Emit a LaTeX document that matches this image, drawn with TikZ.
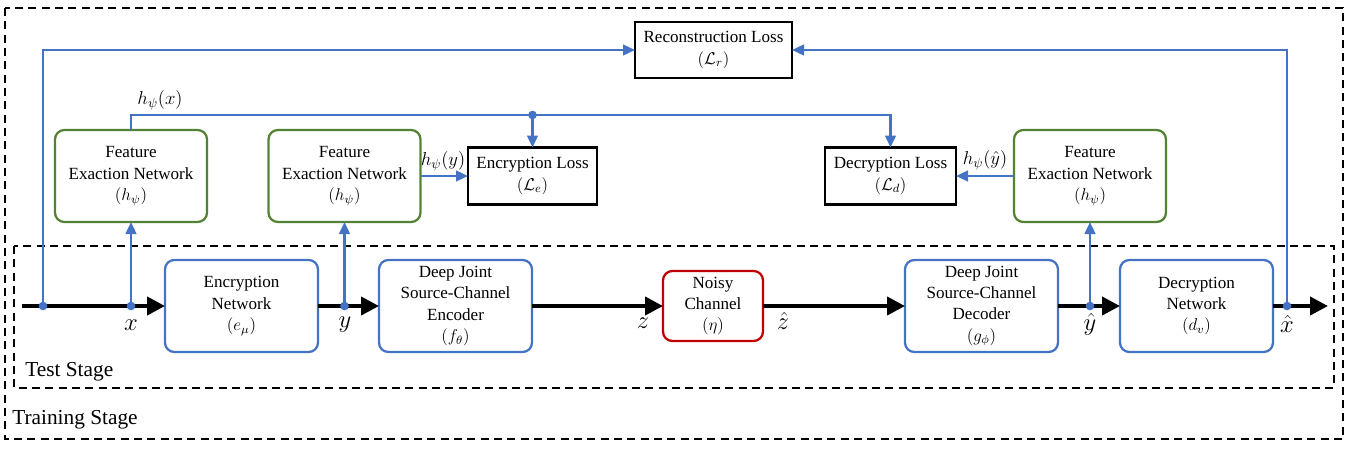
\RequirePackage{fix-cm}
\documentclass[tikz,border=0pt]{standalone}
\usepackage{fontspec}
\setmainfont{Liberation Serif}
\usetikzlibrary{arrows.meta,calc}
\definecolor{myblue}{HTML}{4472C4}
\definecolor{mygreen}{HTML}{548235}
\definecolor{myred}{HTML}{C00000}
\tikzset{
 base/.style={inner sep=0pt, outer sep=0pt, align=center, font=\fontsize{12.8}{16}\selectfont},
 bluebox/.style={base, draw=myblue, line width=1.7pt, rounded corners=7pt, minimum width=114.75pt, minimum height=69pt},
 greenbox/.style={base, draw=mygreen, line width=1.7pt, rounded corners=7pt, minimum width=114pt, minimum height=69pt},
 lossbox/.style={base, draw=black, line width=2pt, minimum height=42.75pt},
 redbox/.style={base, draw=myred, line width=1.7pt, rounded corners=7pt, minimum width=75pt, minimum height=52.5pt},
 mainarrow/.style={line width=3pt, -{Triangle[length=13.5pt,width=13.5pt]}},
 bluearrow/.style={draw=myblue, line width=1.8pt, -{Triangle[length=9pt,width=8pt]}},
 bdot/.style={circle, fill=myblue, inner sep=0pt, minimum size=6.5pt},
 stagebox/.style={line width=1.1pt, dash pattern=on 6pt off 4pt},
 stagelbl/.style={inner sep=0pt, anchor=west, font=\fontsize{16}{19}\selectfont},
 varlbl/.style={inner sep=0pt, font=\fontsize{18.5}{22}\selectfont},
 hlbl/.style={inner sep=0pt, font=\fontsize{14}{16}\selectfont}
}
\begin{document}
\begin{tikzpicture}[x=0.75pt,y=-0.75pt]
\useasboundingbox (0,0) rectangle (1347,451);
% stage boxes
\draw[stagebox] (5,8) rectangle (1343,439);
\draw[stagebox] (14,246) rectangle (1334,388);
\node[stagelbl] (test) at (25,372) {Test Stage};
\node[stagelbl] (train) at (12,420) {Training Stage};
% main chain
\node[bluebox] (enc) at (241.5,306) {Encryption\\Network\\$(e_\mu)$};
\node[bluebox] (jenc) at (455.5,306) {Deep Joint\\Source-Channel\\Encoder\\$(f_\theta)$};
\node[redbox] (noisy) at (713,306) {Noisy\\Channel\\$(\eta)$};
\node[bluebox] (jdec) at (981.5,306) {Deep Joint\\Source-Channel\\Decoder\\$(g_\phi)$};
\node[bluebox] (dec) at (1196.5,306) {Decryption\\Network\\$(d_v)$};
% feature boxes
\node[greenbox] (f1) at (131,176) {Feature\\Exaction Network\\$(h_\psi)$};
\node[greenbox] (f2) at (344.5,176) {Feature\\Exaction Network\\$(h_\psi)$};
\node[greenbox] (f3) at (1090,176) {Feature\\Exaction Network\\$(h_\psi)$};
% losses
\node[lossbox, minimum width=96.75pt] (encl) at (532.5,176) {Encryption Loss\\$(\mathcal{L}_e)$};
\node[lossbox, minimum width=98.25pt] (decl) at (890.5,176) {Decryption Loss\\$(\mathcal{L}_d)$};
\node[lossbox, minimum width=117.75pt, minimum height=42pt] (recl) at (713.5,50) {Reconstruction Loss\\$(\mathcal{L}_r)$};
% coordinates
\coordinate (start) at (22,306);
\coordinate (finish) at (1328,306);
% main arrows
\draw[mainarrow] (start) -- (enc.west);
\draw[mainarrow] (enc.east) -- (jenc.west);
\draw[mainarrow] (jenc.east) -- (noisy.west);
\draw[mainarrow] (noisy.east) -- (jdec.west);
\draw[mainarrow] (jdec.east) -- (dec.west);
\draw[mainarrow] (dec.east) -- (finish);
% blue connectors
\coordinate (c0) at (43,306);
\coordinate (cx) at (131,306);
\coordinate (cy) at (344.5,306);
\coordinate (cyh) at (1090,306);
\coordinate (cxh) at (1287,306);
\coordinate (cbus) at (532.5,115);
\draw[bluearrow] (c0) |- (recl.west);
\draw[bluearrow] (cxh) |- (recl.east);
\draw[bluearrow] (cx) -- (f1.south);
\draw[bluearrow] (cy) -- (f2.south);
\draw[bluearrow] (cyh) -- (f3.south);
\draw[bluearrow] (f1.north) |- (cbus) -| (decl.north);
\draw[bluearrow] (cbus) -- (encl.north);
\draw[bluearrow] (f2.east) -- (encl.west);
\draw[bluearrow] (f3.west) -- (decl.east);
% dots
\node[bdot] (d0) at (c0) {};
\node[bdot] (dx) at (cx) {};
\node[bdot] (dy) at (cy) {};
\node[bdot] (dyh) at (cyh) {};
\node[bdot] (dxh) at (cxh) {};
\node[bdot] (bus) at (cbus) {};
% labels
\node[hlbl] (lhx) at (160,100) {$h_\psi(x)$};
\node[hlbl] (lhy) at (443,161) {$h_\psi(y)$};
\node[hlbl] (lhyh) at (985,160) {$h_\psi(\hat{y})$};
\node[varlbl] (lx) at (131,325) {$x$};
\node[varlbl] (ly) at (345,325) {$y$};
\node[varlbl] (lz) at (643,323) {$z$};
\node[varlbl] (lzh) at (783,321) {$\hat{z}$};
\node[varlbl] (lyh) at (1090,324) {$\hat{y}$};
\node[varlbl] (lxh) at (1287,324) {$\hat{x}$};
\end{tikzpicture}
\end{document}
